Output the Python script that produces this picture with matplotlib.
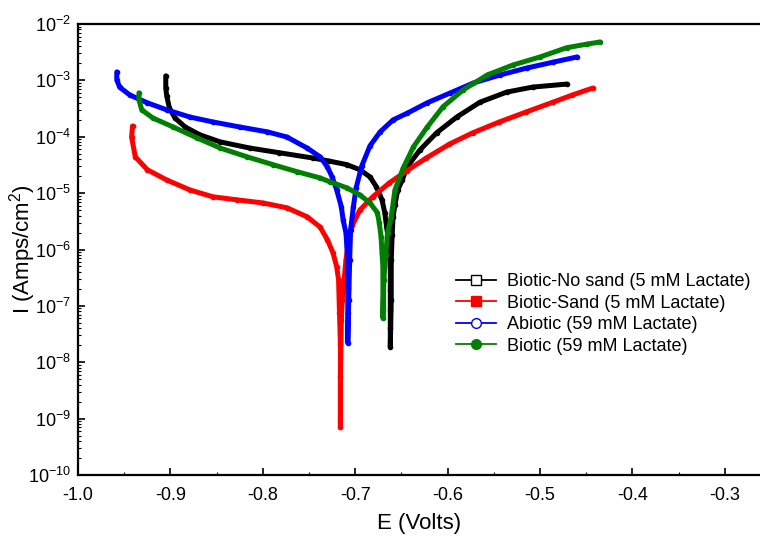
import math
import matplotlib
matplotlib.use("Agg")
import matplotlib.pyplot as plt
from matplotlib.lines import Line2D
from matplotlib.ticker import LogLocator, MultipleLocator, FixedLocator

plt.rcParams["font.family"] = ["Liberation Sans", "DejaVu Sans"]
plt.rcParams["mathtext.default"] = "regular"

# Biotic-No sand (5 mM Lactate)
e_nosand = [-0.905, -0.905, -0.904, -0.901, -0.895, -0.884, -0.868, -0.846, -0.814, -0.782,
            -0.746, -0.728, -0.709, -0.695, -0.684, -0.677, -0.671, -0.668, -0.666, -0.664,
            -0.663, -0.662, -0.662, -0.662, -0.662, -0.662,
            -0.661, -0.661, -0.660, -0.659, -0.657, -0.654, -0.649, -0.644, -0.630, -0.612,
            -0.590, -0.565, -0.536, -0.508, -0.471]
i_nosand = [1.2e-3, 7.3e-4, 5.3e-4, 3.2e-4, 2.15e-4, 1.49e-4, 1.08e-4, 8.1e-5, 6.3e-5, 5.2e-5,
            4.2e-5, 3.7e-5, 3.2e-5, 2.6e-5, 1.94e-5, 1.29e-5, 7.6e-6, 4.5e-6, 2.5e-6, 1.48e-6,
            8.7e-7, 4.9e-7, 1.92e-7, 8.5e-8, 4.1e-8, 1.87e-8,
            1.28e-7, 6.5e-7, 1.82e-6, 3.8e-6, 6.2e-6, 1.14e-5, 1.71e-5, 2.9e-5, 5.8e-5, 1.17e-4,
            2.24e-4, 4.1e-4, 6.2e-4, 7.6e-4, 8.6e-4]

# Biotic-Sand (5 mM Lactate)
e_sand = [-0.941, -0.942, -0.938, -0.925, -0.904, -0.879, -0.854, -0.828, -0.800, -0.774,
          -0.752, -0.738, -0.730, -0.724, -0.720, -0.718, -0.717, -0.716, -0.716,
          -0.716, -0.715, -0.714, -0.712, -0.710, -0.707, -0.703, -0.695, -0.681, -0.663,
          -0.644, -0.623, -0.598, -0.573, -0.544, -0.515, -0.486, -0.465, -0.443]
i_sand = [1.55e-4, 9.9e-5, 4.4e-5, 2.6e-5, 1.71e-5, 1.14e-5, 8.6e-6, 7.6e-6, 6.7e-6, 5.5e-6,
          3.8e-6, 2.5e-6, 1.48e-6, 8.7e-7, 4.9e-7, 2.9e-7, 7.5e-8, 2.1e-8, 7.2e-10,
          5.5e-9, 5.6e-8, 1.28e-7, 2.9e-7, 6.5e-7, 1.48e-6, 2.7e-6, 5.0e-6, 8.6e-6, 1.52e-5,
          2.5e-5, 4.2e-5, 7.4e-5, 1.17e-4, 1.83e-4, 2.75e-4, 4.1e-4, 5.5e-4, 7.3e-4]

# Abiotic (59 mM Lactate)
e_abiotic = [-0.958, -0.958, -0.955, -0.944, -0.925, -0.904, -0.879, -0.854, -0.825, -0.795,
             -0.774, -0.752, -0.738, -0.730, -0.725, -0.720, -0.715, -0.713, -0.710, -0.709,
             -0.708, -0.708, -0.708, -0.708,
             -0.707, -0.706, -0.705, -0.702, -0.699, -0.693, -0.684, -0.673, -0.659, -0.644,
             -0.622, -0.597, -0.572, -0.543, -0.514, -0.486, -0.460]
i_abiotic = [1.41e-3, 1.02e-3, 7.6e-4, 5.5e-4, 4.0e-4, 3.0e-4, 2.24e-4, 1.83e-4, 1.49e-4, 1.22e-4,
             9.9e-5, 6.3e-5, 4.4e-5, 2.9e-5, 1.94e-5, 1.14e-5, 5.7e-6, 3.3e-6, 1.97e-6, 1.11e-6,
             6.5e-7, 2.1e-7, 7.5e-8, 2.2e-8,
             1.28e-7, 6.5e-7, 2.2e-6, 5.7e-6, 1.24e-5, 3.0e-5, 6.9e-5, 1.22e-4, 1.99e-4, 2.6e-4,
             4.0e-4, 6.0e-4, 9.0e-4, 1.25e-3, 1.66e-3, 2.1e-3, 2.6e-3]

# Biotic (59 mM Lactate)
e_biotic = [-0.934, -0.934, -0.931, -0.919, -0.897, -0.871, -0.846, -0.817, -0.789, -0.763,
            -0.738, -0.727, -0.709, -0.695, -0.684, -0.676, -0.674, -0.672, -0.671, -0.670,
            -0.670, -0.670, -0.670,
            -0.669, -0.667, -0.665, -0.661, -0.657, -0.648, -0.637, -0.622, -0.605, -0.583,
            -0.557, -0.529, -0.500, -0.471, -0.449, -0.435]
i_biotic = [6.0e-4, 4.5e-4, 3.0e-4, 2.15e-4, 1.49e-4, 9.5e-5, 6.3e-5, 4.4e-5, 3.2e-5, 2.4e-5,
            1.86e-5, 1.58e-5, 1.24e-5, 9.3e-6, 6.7e-6, 4.5e-6, 3.0e-6, 1.67e-6, 8.7e-7, 4.9e-7,
            3.3e-7, 9.6e-8, 6.1e-8,
            2.9e-7, 8.0e-7, 1.97e-6, 3.8e-6, 1.14e-5, 2.8e-5, 6.6e-5, 1.49e-4, 3.4e-4, 6.8e-4,
            1.25e-3, 1.88e-3, 2.6e-3, 3.8e-3, 4.4e-3, 4.8e-3]

labels = ["Biotic-No sand (5 mM Lactate)", "Biotic-Sand (5 mM Lactate)",
          "Abiotic (59 mM Lactate)", "Biotic (59 mM Lactate)"]
colors = ["black", "#ff0000", "#0000ff", "#008000"]
markers = ["s", "s", "o", "o"]
fills = ["none", "full", "none", "full"]
xticks = [-1.0, -0.9, -0.8, -0.7, -0.6, -0.5, -0.4, -0.3]
yticks = [1e-10, 1e-9, 1e-8, 1e-7, 1e-6, 1e-5, 1e-4, 1e-3, 1e-2]

fig = plt.figure(figsize=(7.6, 5.4), dpi=100)
ax = fig.add_axes([78 / 760, 65 / 540, 682 / 760, 451 / 540])

series = [(e_nosand, i_nosand), (e_sand, i_sand), (e_abiotic, i_abiotic), (e_biotic, i_biotic)]
for (e, i), c in zip(series, colors):
    ax.plot(e, i, color=c, lw=3.6, marker="o", ms=3, solid_capstyle="round",
            solid_joinstyle="round")

ax.set_yscale("log")
ax.set_xlim(-1.0, -0.2619)
ax.set_ylim(1e-10, 1e-2)
ax.xaxis.set_major_locator(FixedLocator(xticks))
ax.xaxis.set_minor_locator(MultipleLocator(0.05))
ax.yaxis.set_major_locator(FixedLocator(yticks))
ax.yaxis.set_minor_locator(LogLocator(base=10, subs=range(2, 10), numticks=20))
ax.yaxis.set_minor_formatter(plt.NullFormatter())
ax.set_xticklabels([f"{t:.1f}" for t in xticks])
ax.set_yticklabels([f"$10^{{{round(math.log10(t))}}}$" for t in yticks])

ax.tick_params(axis="both", which="major", direction="in", length=5, width=1.2,
               labelsize=13, top=False, right=False)
ax.tick_params(axis="both", which="minor", direction="in", length=2.5, width=0.8,
               top=False, right=False)
ax.tick_params(axis="x", pad=9)
ax.tick_params(axis="y", pad=5)
for s in ax.spines.values():
    s.set_linewidth(1.6)
ax.spines["right"].set_visible(False)

ax.set_xlabel("E (Volts)", fontsize=16, labelpad=6)
ax.set_ylabel("I (Amps/cm$^2$)", fontsize=16, labelpad=-7)

# legend handles: thin line with the marker style of each series
handles = [Line2D([0], [0], color=c, lw=1.3, marker=m, ms=7,
                  markerfacecolor=("white" if f == "none" else c), markeredgecolor=c)
           for c, m, f in zip(colors, markers, fills)]
fig.legend(handles, labels, loc="upper left", bbox_to_anchor=(456 / 760, 1 - 273 / 540),
           frameon=False, fontsize=13, handlelength=2.2, labelspacing=0.25,
           handletextpad=0.6, borderaxespad=0, borderpad=0)

fig.savefig("out.png", dpi=100)
